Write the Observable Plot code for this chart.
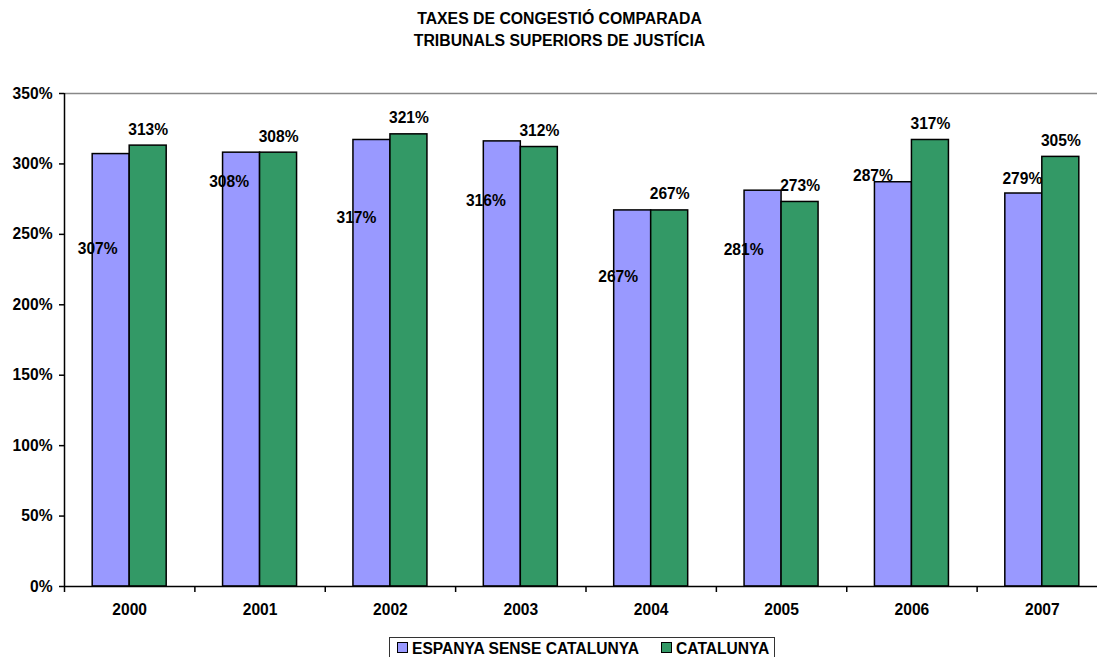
<!DOCTYPE html>
<html>
<head>
<meta charset="utf-8">
<script src="https://cdn.jsdelivr.net/npm/d3@7"></script>
<script src="https://cdn.jsdelivr.net/npm/@observablehq/plot@0.6"></script>
<style>
  html, body { margin: 0; padding: 0; background: #fff; overflow: hidden; width: 1097px; height: 657px; }
  body { position: relative; font-family: "Liberation Sans", Arial, sans-serif; }
  #title { position: absolute; left: 22px; right: 0; top: 8px; text-align: center; font-weight: bold; font-size: 15.8px; line-height: 22px; color: #000; }
  #chart { position: absolute; left: 0; top: 60px; }
  #legend { position: absolute; left: 389px; top: 637px; border: 1px solid #333; padding: 1px 5px 3px 7px; white-space: nowrap; font-weight: bold; font-size: 15.6px; line-height: 19px; color: #000; background: #fff; }
  .sw { display: inline-block; width: 9px; height: 9px; border: 1px solid #000; margin-right: 4px; vertical-align: 1px; }
</style>
</head>
<body>
<div id="title">TAXES DE CONGESTIÓ COMPARADA<br>TRIBUNALS SUPERIORS DE JUSTÍCIA</div>
<div id="chart"></div>
<div id="legend"></div>
<script>
const years = ["2000", "2001", "2002", "2003", "2004", "2005", "2006", "2007"];
const seriesNames = ["ESPANYA SENSE CATALUNYA", "CATALUNYA"];
const espanya = [307, 308, 317, 316, 267, 281, 287, 279];
const catalunya = [313, 308, 321, 312, 267, 273, 317, 305];
const yTicks = [0, 50, 100, 150, 200, 250, 300, 350];
const colors = ["#9999FF", "#339966"];
// per-label pixel nudges for the Espanya labels (relative to bar's left edge / top)
const espLabelNudge = [[5, 95], [6, 29], [3, 78], [2, 60], [4, 67], [-1, 59], [-2, -6], [17, -15]];

const rows = years.flatMap((y, i) => [
  {year: y, series: seriesNames[0], value: espanya[i], i},
  {year: y, series: seriesNames[1], value: catalunya[i], i}
]);

const W = 1107, ML = 64, MR = 0;
const step = (W - ML - MR) / years.length;
const barW = 37;
const half = step / 2;
const FS = 15.6;

const espRows = rows.filter(d => d.series === seriesNames[0]);
const catRows = rows.filter(d => d.series === seriesNames[1]);

const chart = Plot.plot({
  width: W,
  height: 566,
  marginTop: 33,
  marginBottom: 40,
  marginLeft: ML,
  marginRight: MR,
  style: {fontFamily: "'Liberation Sans', Arial, sans-serif", fontSize: FS + "px", fontWeight: "bold", color: "#000", background: "#fff", maxWidth: "none"},
  x: {domain: years, padding: 0, round: false, label: null},
  y: {domain: [0, 350], label: null},
  color: {domain: seriesNames, range: colors},
  marks: [
    Plot.ruleY([350], {stroke: "#888", strokeWidth: 1.5}),
    Plot.barY(espRows, {x: "year", y: "value", fill: "series", stroke: "#000", strokeWidth: 1.5, insetLeft: half - barW, insetRight: half}),
    Plot.barY(catRows, {x: "year", y: "value", fill: "series", stroke: "#000", strokeWidth: 1.5, insetLeft: half, insetRight: half - barW}),
    Plot.ruleY([0], {stroke: "#000", strokeWidth: 1.5}),
    Plot.ruleX([years[0]], {dx: -half, y1: 0, y2: 350, stroke: "#000", strokeWidth: 1.5}),
    Plot.ruleX(years, {x: d => d, dx: -half, y1: 0, y2: 0, insetBottom: -6, stroke: "#000", strokeWidth: 1.5}),
    Plot.axisX({tickSize: 0, tickPadding: 17, fontSize: FS, fontWeight: "bold"}),
    Plot.axisY({ticks: yTicks, tickSize: 5, tickPadding: 7, tickFormat: d => d + "%", fontSize: FS, fontWeight: "bold", strokeWidth: 1.5}),
    Plot.text(catRows, {x: "year", y: "value", text: d => d.value + "%", dx: barW / 2, dy: -16, fill: "#000", fontSize: FS, fontWeight: "bold"}),
    ...espRows.map((d, k) => Plot.text([d], {x: "year", y: "value", text: r => r.value + "%", dx: -barW + espLabelNudge[k][0], dy: espLabelNudge[k][1], fill: "#000", fontSize: FS, fontWeight: "bold"}))
  ]
});
document.getElementById("chart").appendChild(chart);

const legend = document.getElementById("legend");
seriesNames.forEach((name, i) => {
  const sw = document.createElement("span");
  sw.className = "sw";
  sw.style.background = colors[i];
  legend.appendChild(sw);
  const t = document.createElement("span");
  t.textContent = name;
  t.style.marginRight = i === 0 ? "22px" : "0";
  legend.appendChild(t);
});
</script>
</body>
</html>
